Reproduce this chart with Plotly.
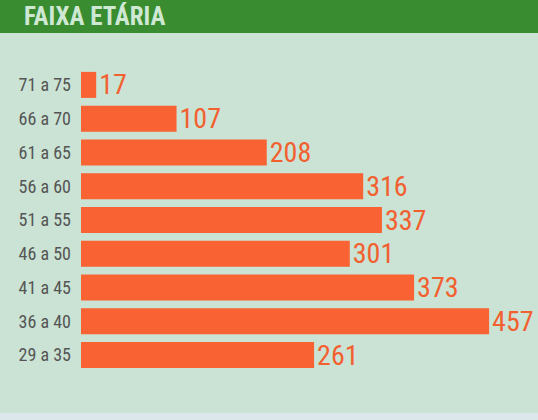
import plotly.graph_objects as go

categories = ["71 a 75", "66 a 70", "61 a 65", "56 a 60", "51 a 55", "46 a 50", "41 a 45", "36 a 40", "29 a 35"]
values = [17, 107, 208, 316, 337, 301, 373, 457, 261]
title_text = "FAIXA ETÁRIA"

W, H = 538, 420
ml, mr, mt, mb = 81, 0, 68, 48
ph = H - mt - mb
pw = W - ml - mr

def py(p):
    return (H - mb - p) / ph

def px(p):
    return (p - ml) / pw

narrow = "Roboto Condensed, DejaVu Sans Condensed, sans-serif"

fig = go.Figure(go.Bar(
    x=values, y=categories, orientation="h",
    marker=dict(color="#f96232", line=dict(width=0)),
    text=[str(v) for v in values], textposition="outside", constraintext="none",
    textfont=dict(family=narrow, size=28, color="#f26030"),
    cliponaxis=False, width=0.77,
))

fig.update_layout(
    width=W, height=H,
    margin=dict(l=ml, r=mr, t=mt, b=mb),
    paper_bgcolor="#cae3d4", plot_bgcolor="#cae3d4",
    showlegend=False,
    xaxis=dict(range=[0, 457 / 0.893], visible=False, fixedrange=True),
    yaxis=dict(autorange="reversed", showgrid=False, zeroline=False, showline=False,
               ticks="", ticklabelstandoff=9, fixedrange=True,
               tickfont=dict(family=narrow, size=18, color="#555555")),
    shapes=[
        dict(type="rect", xref="paper", yref="paper", x0=px(0), x1=px(W), y0=py(33), y1=py(0),
             fillcolor="#3a8c30", line=dict(width=0), layer="below"),
        dict(type="rect", xref="paper", yref="paper", x0=px(0), x1=px(W), y0=py(420), y1=py(413),
             fillcolor="#dbe7ea", line=dict(width=0), layer="below"),
    ],
    annotations=[
        dict(text=f"<b>{title_text}</b>", xref="paper", yref="paper", x=px(22), y=py(17),
             xanchor="left", yanchor="middle", showarrow=False,
             font=dict(family=narrow, size=25, color="#cfe8d4")),
    ],
)

fig.write_html("out.html", config={"displayModeBar": False},
               post_script="document.body.style.margin='0';")
